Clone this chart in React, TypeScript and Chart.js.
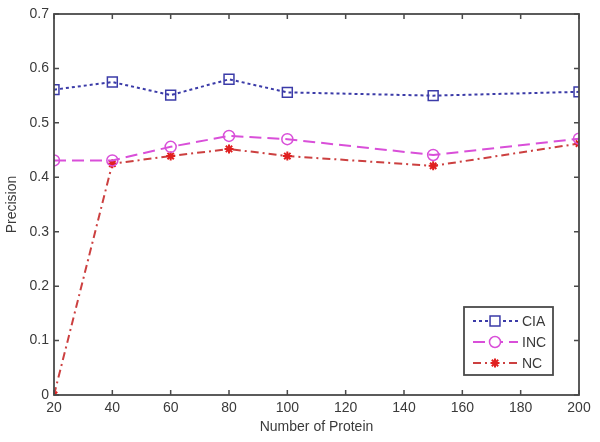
import React, { useEffect, useRef } from "react";
import { Chart, registerables } from "chart.js";

Chart.register(...registerables);

const xValues = [20, 40, 60, 80, 100, 150, 200];
const ciaValues = [0.561, 0.575, 0.551, 0.58, 0.556, 0.55, 0.557];
const incValues = [0.431, 0.431, 0.456, 0.476, 0.47, 0.441, 0.471];
const ncValues = [0.0, 0.425, 0.439, 0.452, 0.439, 0.421, 0.462];
const seriesNames = ["CIA", "INC", "NC"];
const xTicks = [20, 40, 60, 80, 100, 120, 140, 160, 180, 200];
const yTicks = [0, 0.1, 0.2, 0.3, 0.4, 0.5, 0.6, 0.7];

const FONT = "'Liberation Sans', Arial, sans-serif";
const AXIS = "#4a4a4a";
const TEXT = "#3a3a3a";

const framePlugin = {
  id: "frameTicks",
  afterDraw(chart: any) {
    const { ctx, chartArea: a } = chart;
    const xs = chart.scales.x;
    const ys = chart.scales.y;
    ctx.save();
    ctx.strokeStyle = AXIS;
    ctx.lineWidth = 1.8;
    ctx.setLineDash([]);
    ctx.strokeRect(a.left, a.top, a.right - a.left, a.bottom - a.top);
    const L = 5;
    ctx.lineWidth = 1.5;
    ctx.beginPath();
    xTicks.forEach((v) => {
      const px = xs.getPixelForValue(v);
      ctx.moveTo(px, a.bottom);
      ctx.lineTo(px, a.bottom - L);
      ctx.moveTo(px, a.top);
      ctx.lineTo(px, a.top + L);
    });
    yTicks.forEach((v) => {
      const py = ys.getPixelForValue(v);
      ctx.moveTo(a.left, py);
      ctx.lineTo(a.left + L, py);
      ctx.moveTo(a.right, py);
      ctx.lineTo(a.right - L, py);
    });
    ctx.stroke();

    // legend box
    const bx = 464, by = 307, bw = 89, bh = 68;
    ctx.fillStyle = "#ffffff";
    ctx.fillRect(bx, by, bw, bh);
    ctx.strokeStyle = AXIS;
    ctx.lineWidth = 1.8;
    ctx.strokeRect(bx, by, bw, bh);
    chart.data.datasets.forEach((ds: any, i: number) => {
      const y = by + 14 + i * 21;
      const cx = bx + 31;
      ctx.strokeStyle = ds.borderColor;
      ctx.lineWidth = ds.borderWidth;
      ctx.setLineDash(ds.borderDash || []);
      ctx.beginPath();
      ctx.moveTo(bx + 9, y);
      ctx.lineTo(bx + 54, y);
      ctx.stroke();
      ctx.setLineDash([]);
      const meta = chart.getDatasetMeta(i);
      const el = meta.data[1];
      const opts = el && el.options;
      if (opts) {
        const style = opts.pointStyle;
        const r = opts.radius;
        ctx.lineWidth = opts.borderWidth;
        ctx.strokeStyle = opts.borderColor;
        ctx.fillStyle = "#ffffff";
        ctx.beginPath();
        if (style === "rect") {
          const s = r * Math.SQRT1_2;
          ctx.rect(cx - s, y - s, 2 * s, 2 * s);
          ctx.fill();
        } else if (style === "circle") {
          ctx.arc(cx, y, r, 0, Math.PI * 2);
          ctx.fill();
        } else {
          for (let k = 0; k < 4; k++) {
            const ang = (k * Math.PI) / 4;
            ctx.moveTo(cx - r * Math.cos(ang), y - r * Math.sin(ang));
            ctx.lineTo(cx + r * Math.cos(ang), y + r * Math.sin(ang));
          }
        }
        ctx.stroke();
      }
      ctx.fillStyle = TEXT;
      ctx.font = `14px ${FONT}`;
      ctx.textBaseline = "middle";
      ctx.textAlign = "left";
      ctx.fillText(seriesNames[i], bx + 58, y + 1);
    });
    ctx.restore();
  },
};

export default function App() {
  const ref = useRef<HTMLCanvasElement | null>(null);
  useEffect(() => {
    document.body.style.margin = "0";
    const mk = (arr: number[]) => xValues.map((x, i) => ({ x, y: arr[i] }));
    const chart = new Chart(ref.current as HTMLCanvasElement, {
      type: "line",
      data: {
        datasets: [
          {
            label: seriesNames[0],
            data: mk(ciaValues),
            borderColor: "#3b3ba8",
            borderWidth: 2,
            borderDash: [3, 3],
            pointStyle: "rect",
            pointRadius: 7,
            pointBorderWidth: 1.5,
            pointBorderColor: "#3b3ba8",
            pointBackgroundColor: "rgba(0,0,0,0)",
            tension: 0,
          },
          {
            label: seriesNames[1],
            data: mk(incValues),
            borderColor: "#d94fd9",
            borderWidth: 2,
            borderDash: [12, 6],
            pointStyle: "circle",
            pointRadius: 5.5,
            pointBorderWidth: 1.5,
            pointBorderColor: "#d94fd9",
            pointBackgroundColor: "rgba(0,0,0,0)",
            tension: 0,
          },
          {
            label: seriesNames[2],
            data: mk(ncValues),
            borderColor: "#cc4040",
            borderWidth: 2,
            borderDash: [8, 4, 2, 4],
            pointStyle: "star",
            pointRadius: 4.5,
            pointBorderWidth: 2,
            pointBorderColor: "#e02020",
            pointBackgroundColor: "#e02020",
            tension: 0,
          },
        ],
      },
      options: {
        animation: false,
        responsive: false,
        maintainAspectRatio: false,
        layout: { padding: { left: 0, top: 14, right: 21, bottom: 0 } },
        plugins: { legend: { display: false }, tooltip: { enabled: false } },
        scales: {
          x: {
            type: "linear",
            min: 20,
            max: 200,
            afterFit: (s: any) => {
              s.height = 47;
            },
            afterBuildTicks: (s: any) => {
              s.ticks = xTicks.map((v) => ({ value: v }));
            },
            grid: { display: false, drawTicks: false },
            border: { display: false },
            ticks: {
              padding: 5,
              color: TEXT,
              font: { family: FONT, size: 14 },
              maxRotation: 0,
              autoSkip: false,
            },
            title: {
              display: true,
              text: "Number of Protein",
              color: TEXT,
              font: { family: FONT, size: 14 },
              padding: { top: 2, bottom: 6 },
            },
          },
          y: {
            min: 0,
            max: 0.7,
            afterFit: (s: any) => {
              s.width = 54;
            },
            afterBuildTicks: (s: any) => {
              s.ticks = yTicks.map((v) => ({ value: v }));
            },
            grid: { display: false, drawTicks: false },
            border: { display: false },
            ticks: {
              padding: 5,
              color: TEXT,
              font: { family: FONT, size: 14 },
              autoSkip: false,
              callback: (v: any) => String(Math.round(Number(v) * 10) / 10),
            },
            title: {
              display: true,
              text: "Precision",
              color: TEXT,
              font: { family: FONT, size: 14 },
              padding: { top: 4, bottom: 0 },
            },
          },
        },
      },
      plugins: [framePlugin],
    } as any);
    return () => chart.destroy();
  }, []);
  return (
    <div style={{ position: "absolute", left: 0, top: 0, width: 600, height: 442, background: "#fff" }}>
      <canvas ref={ref} width={600} height={442} />
    </div>
  );
}
